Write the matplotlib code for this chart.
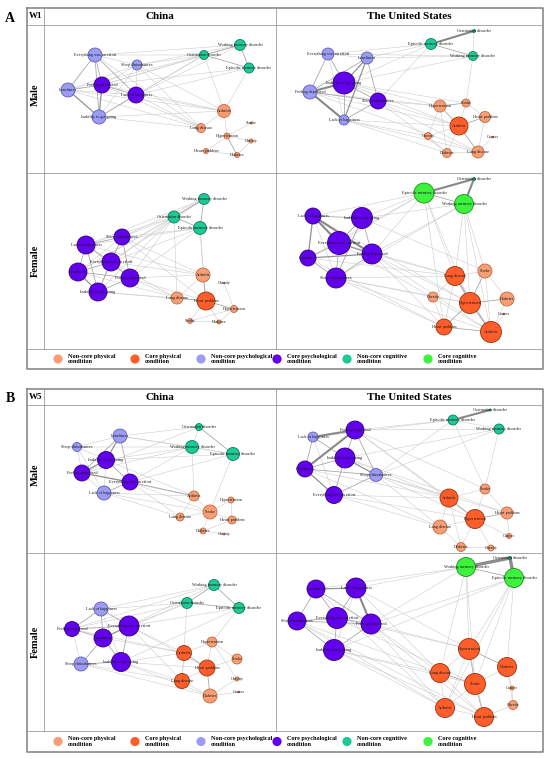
import numpy as np
import matplotlib.pyplot as plt
from matplotlib.patches import Circle

# node order shared by all eight networks
codes = ["EWE", "SD", "FD", "LON", "LOH", "IGG", "OD", "WMD", "EMD",
         "ART", "LUNG", "STR", "HYP", "OBE", "HEART", "DIA", "CAN"]
labels = ["Everything was an effort", "Sleep disturbances", "Feeling depressed",
          "Loneliness", "Lack of happiness", "Inability to get going",
          "Orientation disorder", "Working memory disorder", "Episodic memory disorder",
          "Arthritis", "Lung disease", "Stroke", "Hypertension", "Obesity",
          "Heart problem", "Diabetes", "Cancer"]

legend_kinds = ["pn", "pc", "yn", "yc", "cn", "cc"]
legend_text = ["Non-core physical\ncondition", "Core physical\ncondition",
               "Non-core psychological\ncondition", "Core psychological\ncondition",
               "Non-core cognitive\ncondition", "Core cognitive\ncondition"]

# ---- W1, China, male
a_cn_m_x = [95, 137, 102, 68, 136, 99, 204, 240, 249, 224, 201, 251, 227, 251, 206, 237, None]
a_cn_m_y = [55, 65, 85, 90, 95, 117, 55, 45, 68, 111, 128, 123, 136, 141, 151, 155, None]
a_cn_m_r = [7, 5, 8, 7, 8, 7, 4.5, 5.5, 5, 6.5, 4.5, 1, 3, 2, 2.5, 2.5, 0]
a_cn_m_k = ["yn", "yn", "yc", "yn", "yc", "yn", "cn", "cn", "cn",
            "pn", "pn", "pn", "pn", "pn", "pn", "pn", "pn"]
a_cn_m_e = """EWE-FD:2 EWE-LON:2 EWE-IGG:2 EWE-SD:1 EWE-LOH:2 FD-LON:2 FD-IGG:3 FD-LOH:2
FD-SD:1 LON-IGG:3 LON-LOH:1 IGG-LOH:2 SD-LOH:1 SD-IGG:1 LON-SD:1
OD-WMD:2 OD-EMD:2 WMD-EMD:2
ART-LUNG:1 ART-HYP:1 STR-HYP:1 HYP-OBE:1 HYP-DIA:2 HYP-HEART:1 HEART-DIA:1 OBE-DIA:1
EWE-OD:1 EWE-WMD:1 SD-OD:1 SD-WMD:1 FD-OD:1 FD-EMD:1 LOH-OD:1 LOH-EMD:1 LOH-WMD:1
LON-OD:1 IGG-OD:1 SD-ART:1 LOH-ART:1 LOH-LUNG:1 FD-LUNG:1 FD-ART:1 IGG-ART:1
EWE-LUNG:1 LON-ART:1 OD-ART:1 EMD-ART:1 SD-LUNG:1 IGG-LUNG:1 LON-LUNG:1 FD-WMD:1"""

# ---- W1, United States, male
a_us_m_x = [328, 378, 310, 367, 344, 344, 474, 473, 431, 459, 478, 466, 440, 428, 485, 447, 493]
a_us_m_y = [54, 101, 92, 58, 120, 83, 31, 56, 44, 126, 152, 103, 106, 136, 117, 153, 137]
a_us_m_r = [6, 8, 7, 6, 5, 11, 1.5, 4.5, 5.5, 9, 6, 4, 6, 3.5, 5.5, 4.5, 0.8]
a_us_m_k = ["yn", "yc", "yn", "yn", "yn", "yc", "cn", "cn", "cn",
            "pc", "pn", "pn", "pn", "pn", "pn", "pn", "pn"]
a_us_m_e = """FD-IGG:4 FD-LOH:4 FD-LON:2 EWE-FD:2 EWE-IGG:2 LON-IGG:3 LON-LOH:3 IGG-SD:2
IGG-LOH:2 FD-SD:2 SD-LOH:2 LON-SD:2 EWE-LON:1 EWE-LOH:1
OD-EMD:4 EMD-WMD:2 OD-WMD:1
HYP-STR:2 HYP-ART:2 HYP-OBE:1 HYP-DIA:1 STR-HEART:1 STR-ART:1 ART-HEART:2 ART-LUNG:2
ART-DIA:1 ART-OBE:1 HEART-LUNG:1 DIA-LUNG:1 OBE-DIA:1 CAN-LUNG:1
WMD-STR:1 EWE-EMD:1 EWE-WMD:1 LON-EMD:1 LON-WMD:1 IGG-EMD:1 IGG-WMD:1 SD-EMD:1
FD-HYP:1 FD-ART:1 SD-HYP:1 SD-ART:1 LOH-ART:1 LOH-OBE:1 IGG-HYP:1 SD-LUNG:1
LOH-LUNG:1 SD-DIA:1 IGG-ART:1 LOH-DIA:1 FD-LUNG:1 IGG-STR:1"""

# ---- W1, China, female
a_cn_f_x = [111, 122, 130, 78, 86, 98, 174, 204, 200, 203, 177, 190, 234, 224, 206, 219, None]
a_cn_f_y = [262, 237, 278, 272, 245, 292, 217, 199, 228, 275, 298, 321, 309, 283, 301, 322, None]
a_cn_f_r = [9, 8, 9, 9, 9, 9, 6, 5.5, 6.5, 7, 6, 2.5, 3.5, 0.8, 9, 2, 0]
a_cn_f_k = ["yc", "yc", "yc", "yc", "yc", "yc", "cn", "cn", "cn",
            "pn", "pn", "pn", "pn", "pn", "pc", "pn", "pn"]
a_cn_f_e = """EWE-SD:2 EWE-FD:2 EWE-LON:2 EWE-LOH:2 EWE-IGG:2 SD-FD:2 SD-LOH:2 SD-LON:1
SD-IGG:1 FD-LON:2 FD-IGG:2 FD-LOH:1 LON-LOH:2 LON-IGG:3 LOH-IGG:2
WMD-OD:2 WMD-EMD:2 OD-EMD:2
ART-HEART:2 ART-LUNG:1 LUNG-HEART:2 HEART-HYP:2 OBE-HYP:1 HYP-STR:1 HYP-DIA:1
STR-DIA:1 STR-HEART:1 HEART-DIA:1
SD-OD:1 SD-WMD:1 SD-EMD:1 LOH-OD:1 LOH-WMD:1 EWE-OD:1 EWE-EMD:1 FD-OD:1 FD-EMD:1
LON-OD:1 LON-WMD:1 IGG-OD:1 FD-ART:1 FD-LUNG:1 FD-HEART:1 IGG-LUNG:1 IGG-HEART:1
EWE-ART:1 EWE-LUNG:1 LON-LUNG:1 LOH-ART:1 SD-ART:1 SD-HEART:1 OD-LUNG:1 EMD-ART:1
EMD-HEART:1 LOH-EMD:1 EWE-WMD:1"""

# ---- W1, United States, female
a_us_f_x = [339, 336, 372, 308, 313, 362, 474, 464, 424, 491, 455, 485, 470, 433, 444, 507, 504]
a_us_f_y = [243, 278, 254, 258, 216, 218, 179, 204, 193, 332, 276, 271, 303, 297, 327, 299, 314]
a_us_f_r = [11.5, 10, 10, 8, 8, 10.5, 1.5, 9.5, 10, 10.5, 9.5, 7, 10.5, 5, 8, 7, 0.8]
a_us_f_k = ["yc", "yc", "yc", "yc", "yc", "yc", "cn", "cc", "cc",
            "pc", "pc", "pn", "pc", "pn", "pc", "pn", "pn"]
a_us_f_e = """LOH-EWE:4 LOH-FD:4 LOH-IGG:2 LOH-LON:3 LON-FD:3 LON-EWE:2 EWE-IGG:2 EWE-FD:3
EWE-SD:2 FD-SD:2 LON-SD:2 IGG-FD:2 IGG-SD:2 LOH-SD:1
OD-EMD:4 OD-WMD:4 EMD-WMD:2
LUNG-HYP:2 LUNG-STR:1 LUNG-HEART:1 LUNG-ART:2 STR-HYP:2 STR-DIA:1 HYP-DIA:2 HYP-OBE:1
HYP-ART:2 HYP-HEART:2 DIA-ART:1 HEART-ART:2 OBE-HEART:1 CAN-ART:1 STR-ART:1 OBE-LUNG:1
EMD-LUNG:1 EMD-HEART:1 WMD-LUNG:1 WMD-STR:1 WMD-ART:1 WMD-HYP:1 EMD-HYP:1
LOH-EMD:1 IGG-EMD:1 IGG-WMD:1 EWE-EMD:1 FD-EMD:1 FD-WMD:1 SD-WMD:1 LON-EMD:1
FD-LUNG:1 FD-HYP:1 FD-HEART:1 SD-LUNG:1 SD-HEART:1 SD-HYP:1 EWE-LUNG:1 EWE-ART:1
LON-HEART:1 LOH-HYP:1 IGG-STR:1 SD-ART:1 LON-LUNG:1 FD-ART:1 SD-OBE:1"""

# ---- W5, China, male
b_cn_m_x = [130, 77, 82, 120, 104, 106, 199, 192, 233, 194, 180, 210, 231, 224, 232, 203, None]
b_cn_m_y = [482, 447, 473, 436, 493, 460, 427, 447, 454, 496, 517, 512, 500, 534, 520, 531, None]
b_cn_m_r = [8, 4.5, 8, 7, 7, 8.5, 3.5, 6.5, 6.5, 5, 4, 7, 3, 1, 4, 3, 0]
b_cn_m_k = ["yc", "yn", "yc", "yn", "yn", "yc", "cn", "cn", "cn",
            "pn", "pn", "pn", "pn", "pn", "pn", "pn", "pn"]
b_cn_m_e = """IGG-FD:3 IGG-LON:3 IGG-EWE:2 FD-EWE:3 FD-LON:2 FD-SD:1 LON-SD:1 LON-EWE:2
EWE-LOH:2 FD-LOH:1 IGG-SD:1 SD-LOH:1 LOH-IGG:1
OD-WMD:1 OD-EMD:2 WMD-EMD:1
ART-STR:1 ART-LUNG:1 STR-HYP:1 STR-HEART:1 HYP-HEART:1 STR-DIA:1 DIA-OBE:1
HEART-DIA:1 LUNG-STR:1
EMD-STR:1 WMD-ART:1 LON-WMD:1 LON-OD:1 IGG-WMD:1 IGG-EMD:1 EWE-WMD:1 EWE-EMD:1
EWE-ART:2 EWE-STR:1 EWE-LUNG:1 FD-ART:1 LOH-ART:1 LOH-STR:1 FD-OD:1 SD-WMD:1
LON-EMD:1 FD-WMD:1 IGG-ART:1 LOH-LUNG:1"""

# ---- W5, United States, male
b_us_m_x = [334, 376, 355, 305, 313, 345, 490, 499, 453, 449, 440, 485, 475, 491, 507, 461, 509]
b_us_m_y = [495, 475, 430, 469, 437, 458, 410, 429, 420, 498, 527, 489, 519, 548, 513, 547, 536]
b_us_m_r = [8.5, 6.5, 9, 8, 5, 10, 1, 5, 5, 9, 7, 5, 9.5, 3, 6, 4.5, 2.5]
b_us_m_k = ["yc", "yn", "yc", "yc", "yn", "yc", "cn", "cn", "cn",
            "pc", "pn", "pn", "pc", "pn", "pn", "pn", "pn"]
b_us_m_e = """LOH-FD:4 LOH-IGG:2 LOH-LON:2 LOH-EWE:1 FD-IGG:2 FD-LON:4 FD-SD:2 IGG-LON:2
IGG-SD:3 IGG-EWE:2 LON-EWE:3 LON-SD:2 EWE-SD:2
EMD-OD:4 EMD-WMD:1
ART-STR:1 ART-HYP:2 ART-LUNG:1 ART-DIA:1 STR-HYP:1 STR-HEART:1 HYP-HEART:2 HYP-LUNG:1
HYP-OBE:1 HEART-CAN:1 LUNG-DIA:1 DIA-OBE:1 HYP-DIA:1 HYP-CAN:1
EMD-STR:1 WMD-STR:1 FD-EMD:1 FD-WMD:1 IGG-WMD:1 SD-WMD:1 SD-EMD:1 LOH-EMD:1
FD-ART:1 FD-HYP:1 SD-ART:1 SD-HYP:1 SD-LUNG:1 EWE-ART:1 EWE-LUNG:1 LON-ART:1
IGG-ART:1 IGG-HEART:1 EWE-HYP:1 SD-HEART:1 LON-LUNG:1 FD-STR:1"""

# ---- W5, China, female
b_cn_f_x = [129, 81, 72, 103, 101, 121, 187, 214, 239, 184, 182, 237, 212, 237, 207, 210, 239]
b_cn_f_y = [626, 664, 629, 638, 609, 662, 603, 585, 608, 653, 681, 659, 642, 679, 668, 696, 692]
b_cn_f_r = [10, 7, 7.5, 9, 7, 9.5, 5.5, 5.5, 5.5, 7.5, 7.5, 5, 5, 2, 8, 7, 0.8]
b_cn_f_k = ["yc", "yn", "yc", "yc", "yn", "yc", "cn", "cn", "cn",
            "pc", "pc", "pn", "pn", "pn", "pc", "pn", "pn"]
b_cn_f_e = """LON-EWE:3 LON-FD:2 LON-IGG:2 LON-SD:2 LON-LOH:2 FD-EWE:2 FD-LOH:2 FD-SD:1
EWE-LOH:2 EWE-IGG:2 IGG-SD:2 IGG-LOH:1
WMD-OD:2 WMD-EMD:2 OD-EMD:2
HYP-ART:1 HYP-HEART:1 HYP-STR:1 HYP-OBE:1 ART-HEART:2 ART-LUNG:1 HEART-LUNG:1
HEART-DIA:2 LUNG-DIA:1 STR-HEART:1 DIA-CAN:1 OBE-DIA:1
OD-LOH:1 OD-EWE:1 OD-LON:1 OD-FD:1 WMD-LOH:1 WMD-EWE:1 EMD-EWE:1 EMD-IGG:1
EMD-HYP:1 OD-LUNG:1 EWE-ART:1 EWE-HEART:1 IGG-ART:1 IGG-LUNG:1 IGG-HEART:1
SD-LUNG:1 LON-ART:1 FD-ART:1 SD-DIA:1 IGG-DIA:1 EWE-LUNG:1 FD-WMD:1"""

# ---- W5, United States, female
b_us_f_x = [337, 297, 371, 316, 356, 334, 510, 466, 514, 445, 440, 475, 469, 513, 484, 507, 512]
b_us_f_y = [618, 621, 624, 589, 588, 650, 558, 567, 578, 708, 673, 684, 649, 705, 717, 667, 688]
b_us_f_r = [10.5, 9, 10, 9, 10, 10.5, 1.5, 9.5, 9.5, 9.5, 9.5, 10.5, 10.5, 4.5, 9.5, 9.5, 2]
b_us_f_k = ["yc", "yc", "yc", "yc", "yc", "yc", "cn", "cc", "cc",
            "pc", "pc", "pc", "pc", "pn", "pc", "pc", "pn"]
b_us_f_e = """LON-LOH:3 LON-EWE:2 LON-FD:2 LON-SD:2 LOH-FD:4 LOH-EWE:2 LOH-IGG:1 SD-EWE:2
SD-IGG:2 SD-FD:2 EWE-FD:2 EWE-IGG:2 FD-IGG:2
WMD-OD:5 EMD-OD:5 WMD-EMD:2
HYP-LUNG:1 HYP-STR:2 HYP-DIA:2 HYP-ART:1 HYP-HEART:1 LUNG-STR:2 LUNG-ART:1 LUNG-HEART:1
STR-ART:1 STR-HEART:2 STR-DIA:1 DIA-CAN:1 DIA-OBE:1 ART-HEART:1 HEART-OBE:1 CAN-OBE:1
WMD-HYP:1 WMD-LUNG:1 WMD-STR:1 EMD-HYP:1 EMD-DIA:1 EMD-STR:1 EMD-ART:1 WMD-LOH:1
WMD-LON:1 WMD-FD:1 EMD-FD:1 EMD-IGG:1 FD-LUNG:1 FD-HYP:1 FD-ART:1 FD-HEART:1
IGG-LUNG:1 IGG-ART:1 IGG-HEART:1 SD-ART:1 SD-LUNG:1 EWE-HYP:1 EWE-STR:1 LOH-HYP:1
LOH-LUNG:1 LON-ART:1 IGG-STR:1 SD-HEART:1"""

fill = {"pn": "#F79E75", "pc": "#FF5E2A", "yn": "#9C9CF5",
        "yc": "#6300EE", "cn": "#1DC994", "cc": "#3CF23C"}
edge_col = {"pn": "#C06A42", "pc": "#9A300A", "yn": "#5E5EB5",
            "yc": "#330080", "cn": "#0C7F5B", "cc": "#1A8E1A"}
# weight -> (linewidth, colour)
wstyle = {1: (0.35, "#c6c6c6"), 2: (0.55, "#a2a2a2"), 3: (0.9, "#929292"),
          4: (1.5, "#888888"), 5: (2.4, "#8c8c8c")}

SERIF = ["Liberation Serif", "DejaVu Serif"]

fig = plt.figure(figsize=(5.5, 7.59), dpi=100)
ax = fig.add_axes([0, 0, 1, 1])
ax.set_xlim(0, 550)
ax.set_ylim(759, 0)
ax.axis("off")


def network(xs, ys, rs, ks, edges):
    idx = {c: i for i, c in enumerate(codes)}
    for tok in edges.split():
        pair, w = tok.split(":")
        a, b = pair.split("-")
        i, j = idx[a], idx[b]
        if xs[i] is None or xs[j] is None:
            continue
        lw, col = wstyle[int(w)]
        ax.plot([xs[i], xs[j]], [ys[i], ys[j]], color=col, lw=lw,
                solid_capstyle="round", zorder=2 + int(w) * 0.1)
    for i in np.argsort(rs):
        if xs[i] is None:
            continue
        if rs[i] > 0:
            ax.add_patch(Circle((xs[i], ys[i]), rs[i], facecolor=fill[ks[i]],
                                edgecolor=edge_col[ks[i]], lw=0.6, zorder=4))
        ax.text(xs[i], ys[i], labels[i], fontsize=3.1, family=SERIF,
                ha="center", va="center", color="#1a1a1a", zorder=5)


def frame(top, head, mid, leg, bot, wave, letter):
    L, R, C1, C2 = 27, 543, 44, 276
    k = dict(color="#9a9a9a", lw=0.6, zorder=1)
    ax.plot([L, R, R, L, L], [top, top, bot, bot, top], color="#8a8a8a", lw=1.2, zorder=1)
    ax.plot([L, R], [head, head], **k)
    ax.plot([L, R], [mid, mid], **k)
    ax.plot([L, R], [leg, leg], **k)
    ax.plot([C1, C1], [top, leg], **k)
    ax.plot([C2, C2], [top, leg], **k)
    hy = (top + head) / 2
    ax.text(10, hy + 2, letter, fontsize=10, weight="bold", family=SERIF,
            ha="center", va="center")
    ax.text((L + C1) / 2, hy, wave, fontsize=6.5, weight="bold", family=SERIF,
            ha="center", va="center")
    ax.text((C1 + C2) / 2, hy, "China", fontsize=8, weight="bold", family=SERIF,
            ha="center", va="center")
    ax.text((C2 + R) / 2, hy, "The United States", fontsize=8, weight="bold",
            family=SERIF, ha="center", va="center")
    ax.text((L + C1) / 2, (head + mid) / 2 - 4, "Male", fontsize=7.5, weight="bold",
            family=SERIF, rotation=90, ha="center", va="center")
    ax.text((L + C1) / 2, (mid + leg) / 2, "Female", fontsize=7.5, weight="bold",
            family=SERIF, rotation=90, ha="center", va="center")
    ly = (leg + bot) / 2
    lx = [58, 135, 201, 277, 347, 428]
    for x0, kd, txt in zip(lx, legend_kinds, legend_text):
        ax.add_patch(Circle((x0, ly), 4.6, facecolor=fill[kd], edgecolor="none", zorder=4))
        ax.text(x0 + 10, ly, txt, fontsize=4.4, weight="bold", family=SERIF,
                ha="left", va="center", linespacing=1.1)


frame(8, 25, 173, 349, 369, "W1", "A")
frame(389, 405, 553, 731, 752, "W5", "B")

network(a_cn_m_x, a_cn_m_y, a_cn_m_r, a_cn_m_k, a_cn_m_e)
network(a_us_m_x, a_us_m_y, a_us_m_r, a_us_m_k, a_us_m_e)
network(a_cn_f_x, a_cn_f_y, a_cn_f_r, a_cn_f_k, a_cn_f_e)
network(a_us_f_x, a_us_f_y, a_us_f_r, a_us_f_k, a_us_f_e)
network(b_cn_m_x, b_cn_m_y, b_cn_m_r, b_cn_m_k, b_cn_m_e)
network(b_us_m_x, b_us_m_y, b_us_m_r, b_us_m_k, b_us_m_e)
network(b_cn_f_x, b_cn_f_y, b_cn_f_r, b_cn_f_k, b_cn_f_e)
network(b_us_f_x, b_us_f_y, b_us_f_r, b_us_f_k, b_us_f_e)

fig.savefig("out.png", dpi=100)
